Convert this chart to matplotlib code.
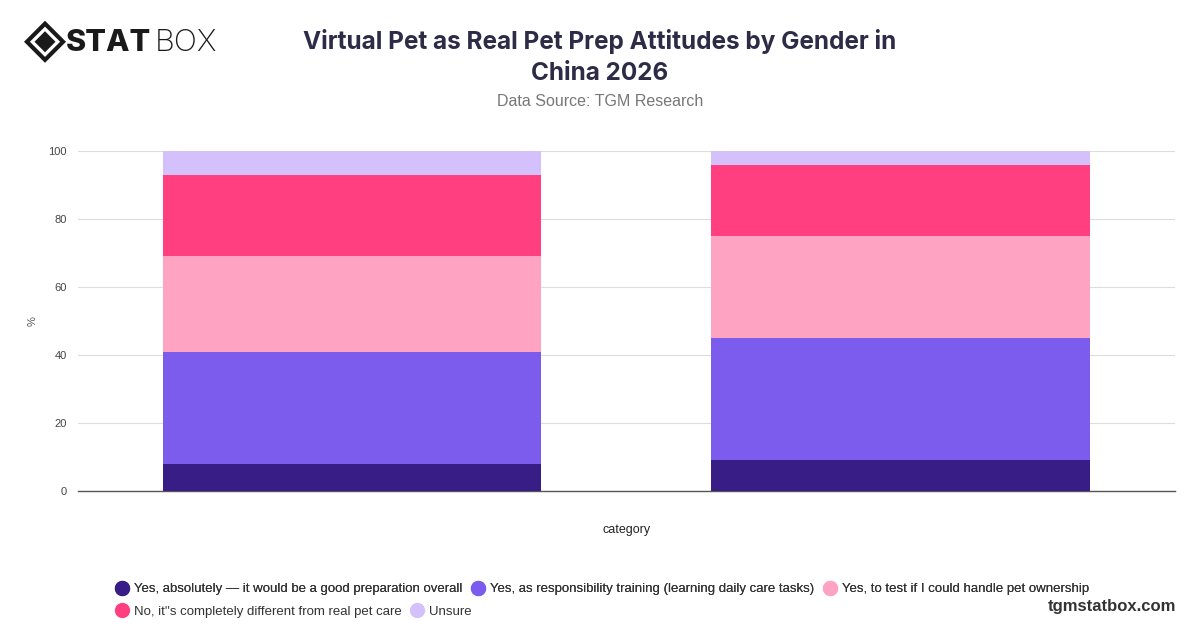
import numpy as np
import matplotlib.pyplot as plt
from matplotlib.lines import Line2D
from matplotlib.patches import Polygon

categories = ['Male', 'Female']
series_names = [
    'Yes, absolutely \u2014 it would be a good preparation overall',
    'Yes, as responsibility training (learning daily care tasks)',
    'Yes, to test if I could handle pet ownership',
    'No, it\'\'s completely different from real pet care',
    'Unsure',
]
series_values = [
    [8, 9],
    [33, 36],
    [28, 30],
    [24, 21],
    [7, 4],
]
colors = ['#371d85', '#7b5ced', '#ffa3c2', '#ff3f80', '#d4c0fa']
yticks = [0, 20, 40, 60, 80, 100]

plt.rcParams['font.family'] = ['Liberation Sans', 'DejaVu Sans']

fig = plt.figure(figsize=(12, 6.28), dpi=100)
ax = fig.add_axes([0.065, 0.218, 0.914, 0.5414])

x = np.arange(len(categories))
bottom = np.zeros(len(categories))
for name, vals, c in zip(series_names, series_values, colors):
    vals = np.array(vals, dtype=float)
    ax.bar(x, vals, bottom=bottom, width=0.69, color=c, label=name, zorder=3)
    bottom += vals

ax.set_xlim(-0.5, 1.5)
ax.set_ylim(0, 100)
ax.set_yticks(yticks)
ax.set_xticks([])
ax.tick_params(axis='y', length=0, pad=8, labelsize=8, labelcolor='#444444')
ax.grid(axis='y', color='#dddddd', linewidth=0.8, zorder=0)
for s in ['top', 'right', 'left']:
    ax.spines[s].set_visible(False)
ax.spines['bottom'].set_color('#555555')
ax.spines['bottom'].set_linewidth(1.0)
ax.set_ylabel('%', fontsize=8, color='#555555', labelpad=8)
ax.set_xlabel('category', fontsize=9, color='#222222', labelpad=24)

# title
fig.text(0.5, 0.909, 'Virtual Pet as Real Pet Prep Attitudes by Gender in\nChina 2026',
         ha='center', va='center', fontsize=17.5, fontweight='bold', color='#2e2b47',
         family=['Inter', 'DejaVu Sans'], linespacing=1.45)
fig.text(0.5, 0.838, 'Data Source: TGM Research', ha='center', va='center',
         fontsize=11.5, color='#777777')

# legend, two rows
handles = [Line2D([0], [0], marker='o', linestyle='', markersize=10,
                  markerfacecolor=c, markeredgecolor=c) for c in colors]
leg1 = fig.legend(handles[:3], series_names[:3], loc='center left',
                  bbox_to_anchor=(0.085, 0.062), ncol=3, frameon=False,
                  fontsize=9.5, handletextpad=0.3, columnspacing=0.6,
                  handlelength=1.2)
leg2 = fig.legend(handles[3:], series_names[3:], loc='center left',
                  bbox_to_anchor=(0.085, 0.026), ncol=2, frameon=False,
                  fontsize=9.5, handletextpad=0.3, columnspacing=0.6,
                  handlelength=1.2)
fig.add_artist(leg1)
for t in leg1.get_texts() + leg2.get_texts():
    t.set_color('#333333')

fig.text(0.98, 0.035, 'tgmstatbox.com', ha='right', va='center', fontsize=12,
         fontweight='bold', color='#333333')

# logo
lax = fig.add_axes([0.02, 0.9, 0.035, 0.067])
lax.set_xlim(-1, 1)
lax.set_ylim(-1, 1)
lax.axis('off')
lax.add_patch(Polygon([[0, 1], [1, 0], [0, -1], [-1, 0]], closed=True,
                      facecolor='#1a1a1a', edgecolor='none'))
lax.add_patch(Polygon([[0, 0.72], [0.72, 0], [0, -0.72], [-0.72, 0]], closed=True,
                      facecolor='white', edgecolor='none'))
lax.add_patch(Polygon([[0, 0.5], [0.5, 0], [0, -0.5], [-0.5, 0]], closed=True,
                      facecolor='#1a1a1a', edgecolor='none'))
fig.text(0.055, 0.932, 'STAT', ha='left', va='center', fontsize=22,
         fontweight='heavy', color='#1a1a1a', family=['Inter', 'DejaVu Sans'])
fig.text(0.129, 0.932, 'BOX', ha='left', va='center', fontsize=22,
         fontweight='light', color='#1a1a1a', family=['Inter', 'DejaVu Sans'])

fig.savefig('out.png', dpi=100)
